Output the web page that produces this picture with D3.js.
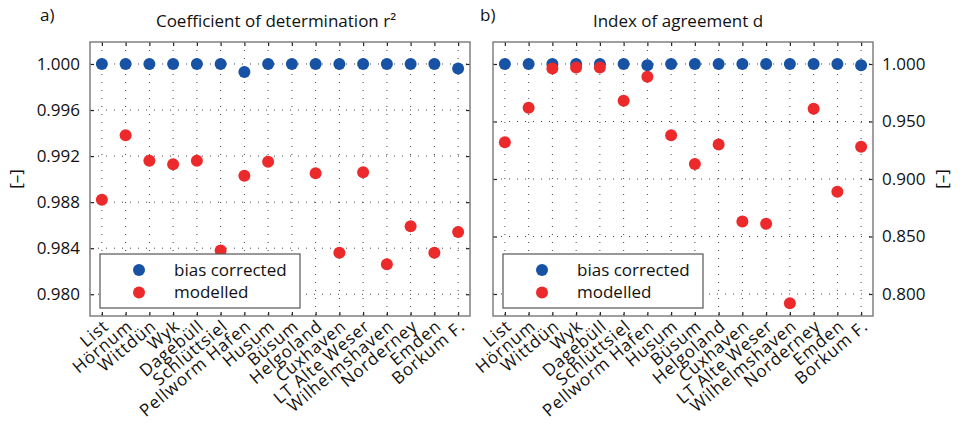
<!DOCTYPE html>
<html>
<head>
<meta charset="utf-8">
<script src="https://cdn.jsdelivr.net/npm/d3@7"></script>
<style>
  body { margin: 0; background: #fff; }
  text { font-family: "Open Sans", sans-serif; fill: #111; }
</style>
</head>
<body>
<div id="chart"></div>
<script>
// station names along the x axis
var stations = ["List", "Hörnum", "Wittdün", "Wyk", "Dagebüll", "Schlüttsiel",
  "Pellworm Hafen", "Husum", "Büsum", "Helgoland", "Cuxhaven", "LT Alte Weser",
  "Wilhelmshaven", "Norderney", "Emden", "Borkum F."];

// a) coefficient of determination r²
var r2Bias = [1.0000, 1.0000, 1.0000, 1.0000, 1.0000, 1.0000, 0.9993, 1.0000,
  1.0000, 1.0000, 1.0000, 1.0000, 1.0000, 1.0000, 1.0000, 0.9996];
var r2Model = [0.9882, 0.9938, 0.9916, 0.9913, 0.9916, 0.9838, 0.9903, 0.9915,
  null, 0.9905, 0.9836, 0.9906, 0.9826, 0.9859, 0.9836, 0.9854];
var r2Ticks = [0.980, 0.984, 0.988, 0.992, 0.996, 1.000];

// b) index of agreement d
var dBias = [1.000, 1.000, 1.000, 1.000, 1.000, 1.000, 0.999, 1.000,
  1.000, 1.000, 1.000, 1.000, 1.000, 1.000, 1.000, 0.999];
var dModel = [0.932, 0.962, 0.996, 0.997, 0.997, 0.968, 0.989, 0.938,
  0.913, 0.930, 0.863, 0.861, 0.792, 0.961, 0.889, 0.928];
var dTicks = [0.800, 0.850, 0.900, 0.950, 1.000];

var seriesNames = ["bias corrected", "modelled"];
var colors = ["#1752a5", "#ec2a2c"];

var svg = d3.select("#chart").append("svg")
  .attr("width", 960)
  .attr("height", 425);

var plotTop = 42, plotBottom = 316, plotW = 380;

function drawPanel(p) {
  var g = svg.append("g");

  var x = d3.scaleLinear()
    .domain([-0.5, stations.length - 0.5])
    .range([p.left, p.left + plotW]);
  var y = d3.scaleLinear()
    .domain(p.domain)
    .range([plotBottom, plotTop]);

  // dotted grid
  g.selectAll(".vgrid")
    .data(stations)
    .enter().append("line")
    .attr("x1", (d, i) => x(i)).attr("x2", (d, i) => x(i))
    .attr("y1", plotTop).attr("y2", plotBottom)
    .attr("stroke", "#444").attr("stroke-width", 1)
    .attr("stroke-dasharray", "1,7");
  g.selectAll(".hgrid")
    .data(p.ticks)
    .enter().append("line")
    .attr("x1", p.left).attr("x2", p.left + plotW)
    .attr("y1", d => y(d)).attr("y2", d => y(d))
    .attr("stroke", "#444").attr("stroke-width", 1)
    .attr("stroke-dasharray", "1,7");

  // inward ticks on all four sides
  var tickLen = 4;
  g.append("g").attr("transform", `translate(0,${plotBottom})`)
    .call(d3.axisBottom(x).tickValues(d3.range(stations.length)).tickSize(-tickLen).tickFormat(""));
  g.append("g").attr("transform", `translate(0,${plotTop})`)
    .call(d3.axisTop(x).tickValues(d3.range(stations.length)).tickSize(-tickLen).tickFormat(""));
  g.append("g").attr("transform", `translate(${p.left},0)`)
    .call(d3.axisLeft(y).tickValues(p.ticks).tickSize(-tickLen).tickFormat(""));
  g.append("g").attr("transform", `translate(${p.left + plotW},0)`)
    .call(d3.axisRight(y).tickValues(p.ticks).tickSize(-tickLen).tickFormat(""));
  g.selectAll(".domain").remove();
  g.selectAll(".tick line").attr("stroke", "#222").attr("stroke-width", 1.2);

  // y tick labels
  var lab = p.labelSide == "left"
    ? d3.axisLeft(y).tickValues(p.ticks).tickSize(0).tickPadding(10).tickFormat(d3.format(".3f"))
    : d3.axisRight(y).tickValues(p.ticks).tickSize(0).tickPadding(9).tickFormat(d3.format(".3f"));
  var la = g.append("g")
    .attr("transform", `translate(${p.labelSide == "left" ? p.left : p.left + plotW},0)`)
    .call(lab);
  la.select(".domain").remove();
  la.selectAll("text").style("font-family", "'Open Sans', sans-serif")
    .style("font-size", "17px").attr("fill", "#111");

  // x labels, rotated
  g.selectAll(".xlab")
    .data(stations)
    .enter().append("text")
    .attr("text-anchor", "end")
    .attr("transform", (d, i) => `translate(${x(i) + 8},${plotBottom + 12}) rotate(-40)`)
    .style("font-size", "17px")
    .style("letter-spacing", "0.9px")
    .text(d => d);

  // frame
  g.append("rect")
    .attr("x", p.left).attr("y", plotTop)
    .attr("width", plotW).attr("height", plotBottom - plotTop)
    .attr("fill", "none").attr("stroke", "#808080").attr("stroke-width", 1.5);

  // points
  [p.bias, p.model].forEach((vals, k) => {
    g.selectAll(".pt" + k)
      .data(vals.map((v, i) => ({v: v, i: i})).filter(d => d.v != null))
      .enter().append("circle")
      .attr("cx", d => x(d.i))
      .attr("cy", d => y(d.v))
      .attr("r", 6)
      .attr("fill", colors[k]);
  });

  // legend
  var lg = g.append("g").attr("transform", `translate(${p.left + 10},254)`);
  lg.append("rect").attr("width", 200).attr("height", 54)
    .attr("fill", "#fff").attr("stroke", "#555").attr("stroke-width", 1.2);
  seriesNames.forEach((s, k) => {
    lg.append("circle").attr("cx", 39).attr("cy", 16 + k * 22.5).attr("r", 6).attr("fill", colors[k]);
    lg.append("text").attr("x", 74).attr("y", 16 + k * 22.5).attr("dy", "0.35em")
      .style("font-size", "17px").text(s);
  });

  // title and panel letter
  g.append("text")
    .attr("x", p.left + plotW / 2 + p.titleShift).attr("y", 27)
    .attr("text-anchor", "middle")
    .style("font-size", "17px")
    .text(p.title);
  g.append("text")
    .attr("x", p.letterX).attr("y", 21)
    .style("font-size", "17px")
    .text(p.letter);

  // unit label
  g.append("text")
    .attr("transform", `translate(${p.unitX},${(plotTop + plotBottom) / 2}) rotate(-90)`)
    .attr("text-anchor", "middle")
    .style("font-size", "17px")
    .text("[–]");
}

drawPanel({
  left: 90, domain: [0.97811, 1.00191], ticks: r2Ticks,
  bias: r2Bias, model: r2Model, labelSide: "left",
  title: "Coefficient of determination r²", titleShift: -4,
  letter: "a)", letterX: 40, unitX: 22
});

drawPanel({
  left: 493, domain: [0.78087, 1.01913], ticks: dTicks,
  bias: dBias, model: dModel, labelSide: "right",
  title: "Index of agreement d", titleShift: -5,
  letter: "b)", letterX: 480, unitX: 948
});
</script>
</body>
</html>
